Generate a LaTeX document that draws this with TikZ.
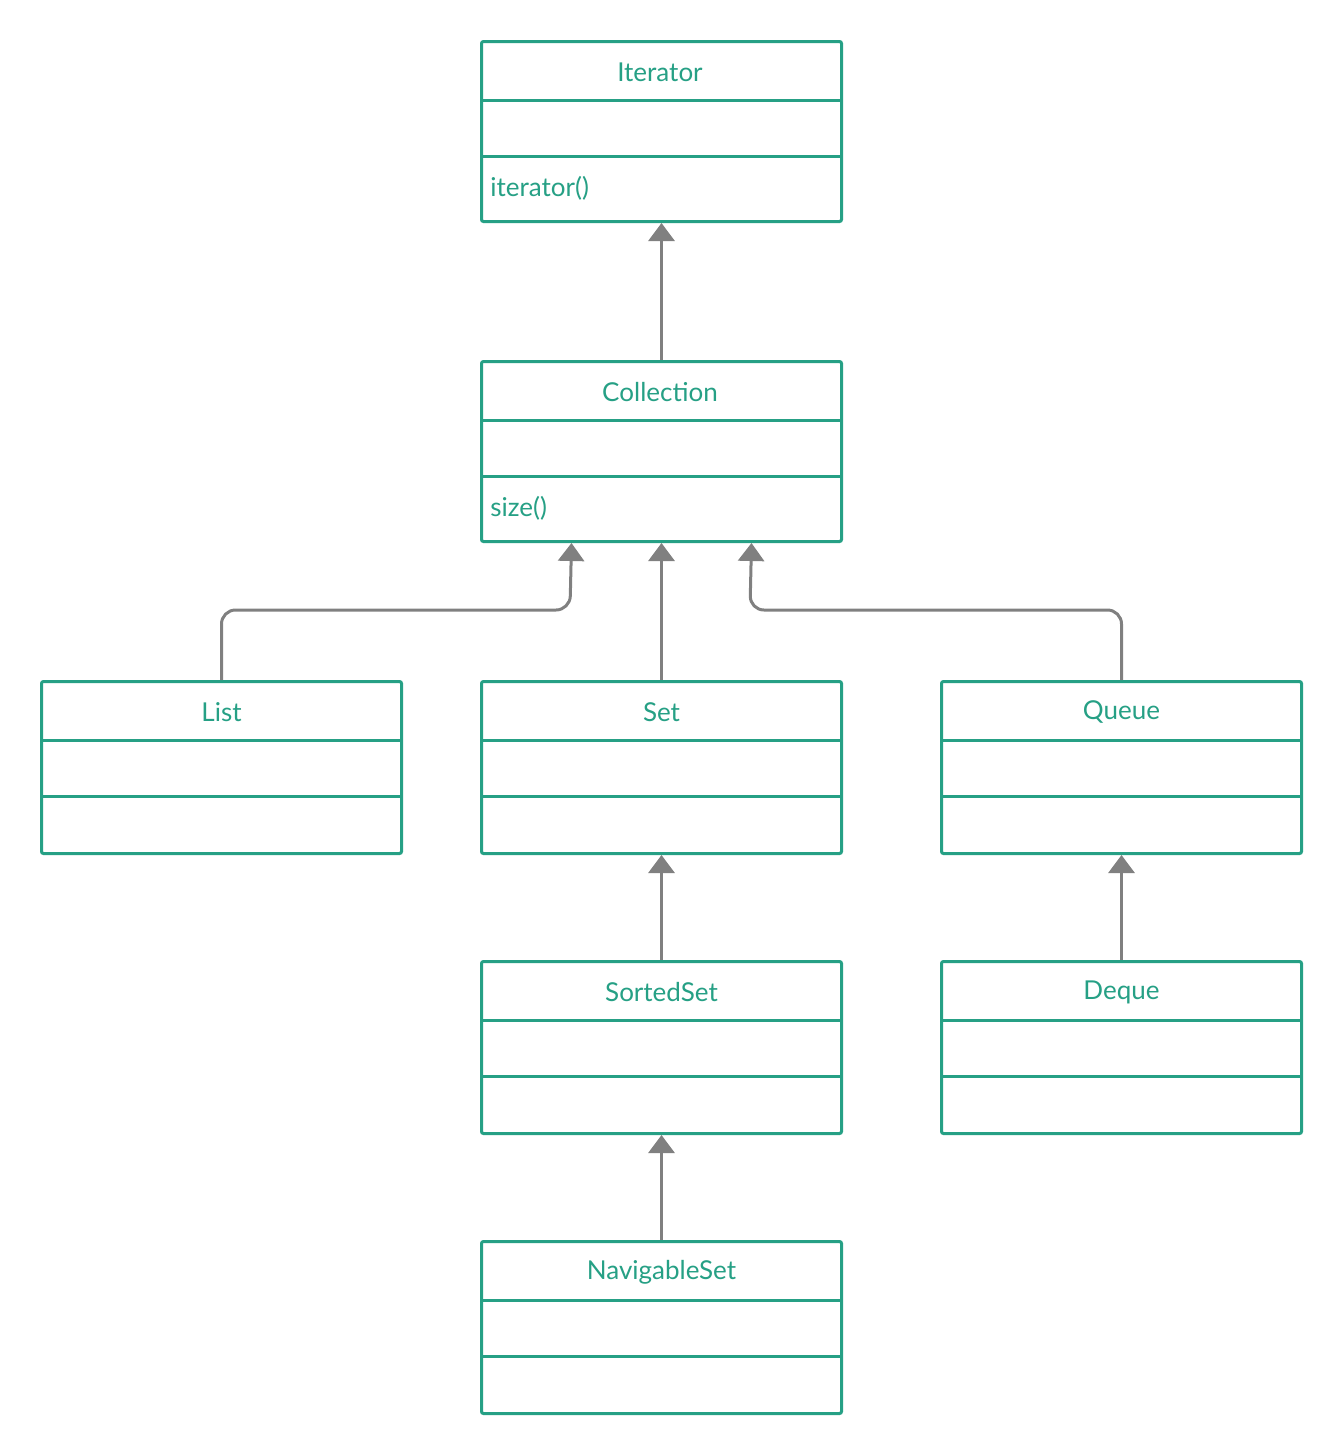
\documentclass[tikz,border=0pt]{standalone}
\usepackage{fontspec}
\setmainfont{Lato}
\usetikzlibrary{arrows.meta,calc}
\definecolor{teal1}{HTML}{26A085}
\definecolor{arr}{HTML}{808080}
\tikzset{
  umlframe/.style={draw=teal1,line width=1.5pt,rounded corners=1pt,inner sep=0pt},
  umltxt/.style={text=teal1,font=\fontsize{13}{15}\selectfont,inner sep=0pt},
  gen/.style={draw=arr,line width=1.5pt,rounded corners=7pt,-{Triangle[width=13pt,length=9pt]}},
}
% name, left x, top y, title, method
\newcommand{\umlbox}[5]{%
  \node[umlframe,anchor=north west,minimum width=180pt,minimum height=86pt] (#1) at (#2,#3) {};
  \draw[teal1,line width=1.5pt] ($(#1.north west)+(0,-30pt)$) -- ($(#1.north east)+(0,-30pt)$);
  \draw[teal1,line width=1.5pt] ($(#1.north west)+(0,-58pt)$) -- ($(#1.north east)+(0,-58pt)$);
  \node[umltxt] (#1-t) at ($(#1.north)+(0,-16pt)$) {#4};
  \node[umltxt,anchor=west] (#1-m) at ($(#1.north west)+(5pt,-74pt)$) {#5};
}
\begin{document}
\begin{tikzpicture}[x=0.5pt,y=-0.5pt]
\useasboundingbox[fill=white] (0,0) rectangle (1341,1452);
\node[umlframe,anchor=north west,minimum width=180pt,minimum height=90pt] (it) at (480,40) {};
\draw[teal1,line width=1.5pt] (480,100) -- (840,100);
\draw[teal1,line width=1.5pt] (480,156) -- (840,156);
\node[umltxt] (it-t) at (660,72) {Iterator};
\node[umltxt,anchor=west] (it-m) at (490,188) {iterator()};
\node[umlframe,anchor=north west,minimum width=180pt,minimum height=90pt] (co) at (480,360) {};
\draw[teal1,line width=1.5pt] (480,420) -- (840,420);
\draw[teal1,line width=1.5pt] (480,476) -- (840,476);
\node[umltxt] (co-t) at (660,392) {Collection};
\node[umltxt,anchor=west] (co-m) at (490,508) {size()};
\umlbox{li}{40}{680}{List}{}
\umlbox{se}{480}{680}{Set}{}
\umlbox{qu}{940}{680}{Queue}{}
\umlbox{ss}{480}{960}{SortedSet}{}
\umlbox{de}{940}{960}{Deque}{}
\umlbox{ns}{480}{1240}{NavigableSet}{}
\draw[gen] (co.north) -- (it.south);
\draw[gen] (se.north) -- (co.south);
\draw[gen] (li.north) |- (570,610) -- ([xshift=-45pt]co.south);
\draw[gen] (qu.north) |- (750,610) -- ([xshift=45pt]co.south);
\draw[gen] (ss.north) -- (se.south);
\draw[gen] (ns.north) -- (ss.south);
\draw[gen] (de.north) -- (qu.south);
\end{tikzpicture}
\end{document}
